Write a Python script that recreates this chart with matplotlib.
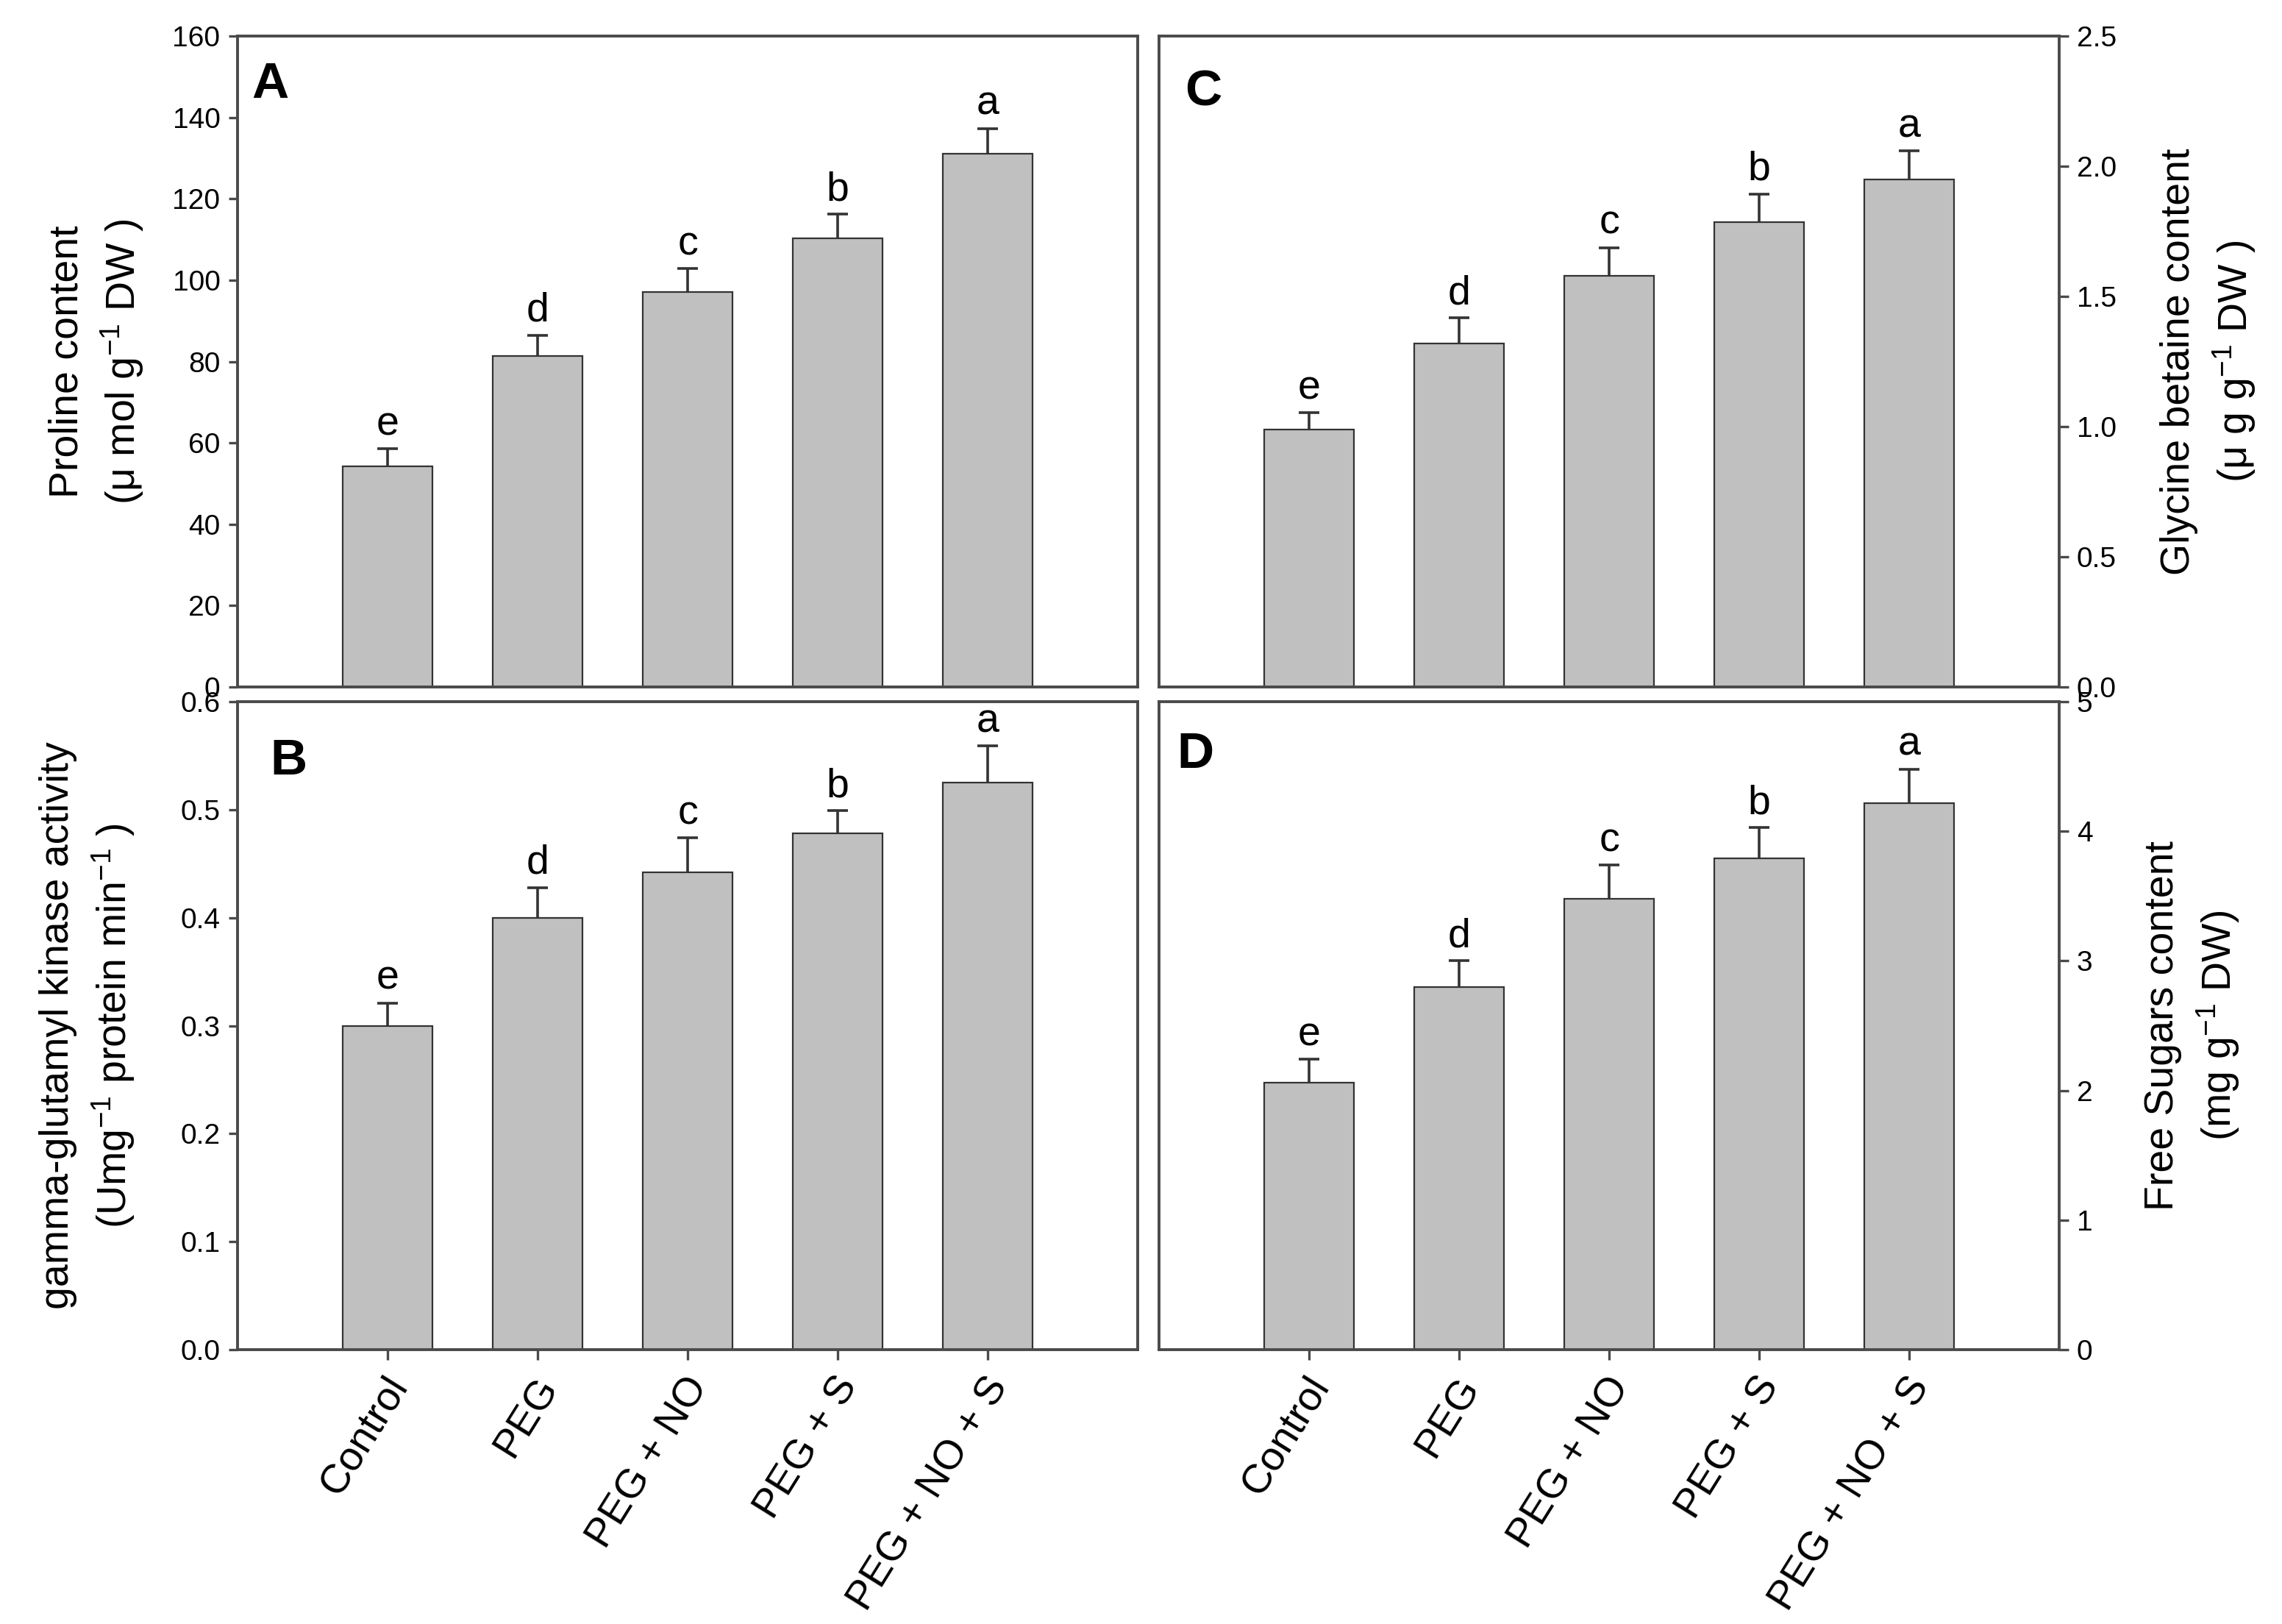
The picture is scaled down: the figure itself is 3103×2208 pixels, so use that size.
import matplotlib
matplotlib.use('Agg')
import matplotlib.pyplot as plt
import matplotlib.transforms as mtransforms
import numpy as np

plt.rcParams['font.family'] = ['Liberation Sans', 'DejaVu Sans']
plt.rcParams['mathtext.fontset'] = 'custom'
plt.rcParams['mathtext.rm'] = 'Liberation Sans'
plt.rcParams['mathtext.it'] = 'Liberation Sans:italic'

# data
treatments = ['Control', 'PEG', 'PEG + NO', 'PEG + S', 'PEG + NO + S']
letters = ['e', 'd', 'c', 'b', 'a']

proline = [54.3, 81.3, 97.0, 110.3, 131.1]
proline_err = [4.2, 5.2, 5.8, 5.9, 6.2]

ggk = [0.300, 0.400, 0.442, 0.478, 0.525]
ggk_err = [0.021, 0.028, 0.032, 0.021, 0.034]

glycine = [0.99, 1.32, 1.58, 1.785, 1.95]
glycine_err = [0.063, 0.098, 0.107, 0.109, 0.109]

sugars = [2.06, 2.80, 3.48, 3.79, 4.22]
sugars_err = [0.18, 0.20, 0.26, 0.24, 0.26]

edge = '#333333'
spine_col = '#4a4a4a'

fig = plt.figure(figsize=(31.03, 22.08), dpi=100)
axA = fig.add_axes([0.1041, 0.5770, 0.3945, 0.4008])
axB = fig.add_axes([0.1041, 0.1689, 0.3945, 0.3990])
axC = fig.add_axes([0.5079, 0.5770, 0.3945, 0.4008])
axD = fig.add_axes([0.5079, 0.1689, 0.3945, 0.3990])

x = np.arange(1, len(treatments) + 1)


def draw_panel(ax, vals, errs, ymax, yticks, fmt, ylabel, tag, tagpos, side, bottom, labcoord):
    ax.bar(x, vals, width=0.6, color='#c0c0c0', edgecolor=edge, linewidth=1.6, zorder=2)
    _, caps, bars = ax.errorbar(x, vals, yerr=[np.zeros(len(vals)), errs], fmt='none',
                                ecolor=edge, elinewidth=2.6, capsize=10, capthick=2.6, zorder=3)
    for c in caps:
        if np.allclose(c.get_ydata(), vals):
            c.set_visible(False)
    for xi, v, e, l in zip(x, vals, errs, letters):
        ax.annotate(l, (xi, v + e), xytext=(0, 5), textcoords='offset points',
                    ha='center', va='bottom', fontsize=40)
    ax.set_xlim(0, 6)
    ax.set_ylim(0, ymax)
    ax.set_yticks(yticks)
    ax.set_yticklabels([fmt % t for t in yticks])
    for s in ax.spines.values():
        s.set_color(spine_col)
        s.set_linewidth(2.8)
    ax.tick_params(axis='y', direction='out', length=9, width=2.4, color=spine_col,
                   labelsize=28, pad=8)
    if side == 'right':
        ax.yaxis.tick_right()
        ax.yaxis.set_label_position('right')
    ax.set_ylabel(ylabel, fontsize=40, linespacing=1.35)
    ax.yaxis.set_label_coords(labcoord, 0.5)
    if bottom:
        ax.set_xticks(x)
        ax.set_xticklabels(treatments, rotation=58, ha='right', va='top',
                           rotation_mode='anchor', fontsize=40)
        ax.tick_params(axis='x', direction='out', length=10, width=2.4, color=spine_col, pad=10)
        shift = mtransforms.ScaledTranslation(-0.06, 0, fig.dpi_scale_trans)
        for t in ax.get_xticklabels():
            t.set_transform(t.get_transform() + shift)
    else:
        ax.set_xticks([])
    ax.text(tagpos[0], tagpos[1], tag, transform=ax.transAxes, fontsize=50,
            fontweight='bold', ha='left', va='top')


draw_panel(axA, proline, proline_err, 160, np.arange(0, 161, 20), '%d',
           'Proline content\n(μ mol g$^{-1}$ DW )', 'A', (0.016, 0.962), 'left', False, -0.102)
draw_panel(axB, ggk, ggk_err, 0.6, np.round(np.arange(0, 0.61, 0.1), 1), '%.1f',
           'gamma-glutamyl kinase activity\n(Umg$^{-1}$ protein min$^{-1}$ )', 'B', (0.036, 0.945),
           'left', True, -0.112)
draw_panel(axC, glycine, glycine_err, 2.5, np.round(np.arange(0, 2.51, 0.5), 1), '%.1f',
           'Glycine betaine content\n(μ g g$^{-1}$ DW )', 'C', (0.029, 0.95), 'right', False, 1.112)
draw_panel(axD, sugars, sugars_err, 5, np.arange(0, 6, 1), '%d',
           'Free Sugars content\n(mg g$^{-1}$ DW)', 'D', (0.02, 0.955), 'right', True, 1.094)

fig.savefig('out.png', dpi=100)
